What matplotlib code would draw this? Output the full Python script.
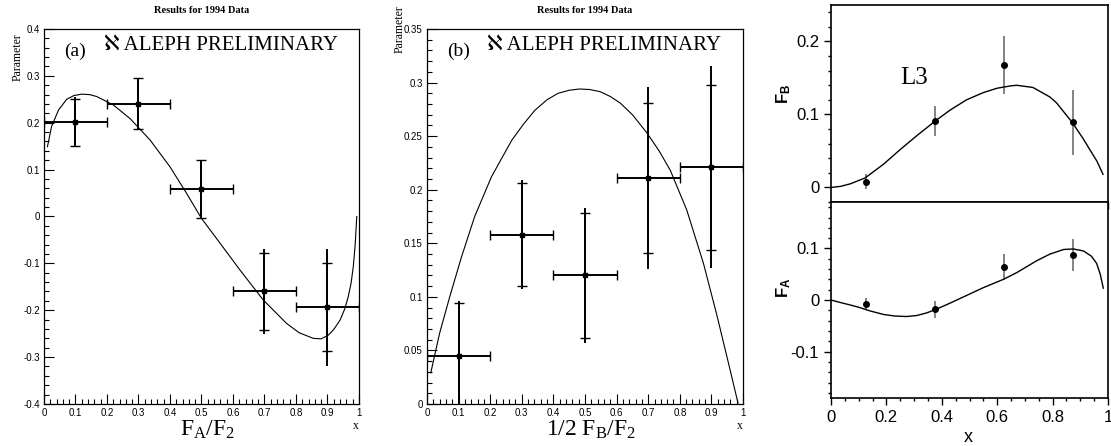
import matplotlib
matplotlib.use('Agg')
import matplotlib.pyplot as plt
from matplotlib.ticker import MultipleLocator, FormatStrFormatter

plt.rcParams['axes.unicode_minus'] = False
plt.rcParams['mathtext.fontset'] = 'custom'
plt.rcParams['mathtext.rm'] = 'Liberation Serif'
plt.rcParams['mathtext.it'] = 'Liberation Serif:italic'
plt.rcParams['mathtext.sf'] = 'Liberation Sans'
plt.rcParams['mathtext.bf'] = 'Liberation Sans:bold'

# ALEPH panel (a): F_A/F_2
xa = [0.1, 0.3, 0.5, 0.7, 0.9]
xa_err = [0.1, 0.1, 0.1, 0.1, 0.1]
ya = [0.201, 0.241, 0.058, -0.160, -0.194]
ya_stat = [0.050, 0.054, 0.062, 0.083, 0.094]
ya_tot = [0.053, 0.055, 0.062, 0.091, 0.124]
curve_a_x = [0.011, 0.024, 0.046, 0.072, 0.095, 0.120, 0.145, 0.167, 0.220, 0.273,
             0.337, 0.400, 0.453, 0.500, 0.559, 0.622, 0.696, 0.770, 0.810, 0.855,
             0.880, 0.903, 0.920, 0.940, 0.955, 0.966, 0.975, 0.982, 0.988, 0.993]
curve_a_y = [0.149, 0.192, 0.227, 0.250, 0.258, 0.261, 0.260, 0.256, 0.238, 0.209,
             0.163, 0.106, 0.049, -0.004, -0.057, -0.114, -0.178, -0.228, -0.248, -0.260,
             -0.261, -0.253, -0.241, -0.221, -0.197, -0.171, -0.142, -0.107, -0.060, 0.0]

# ALEPH panel (b): 1/2 F_B/F_2
xb = [0.1, 0.3, 0.5, 0.7, 0.9]
xb_err = [0.1, 0.1, 0.1, 0.1, 0.1]
yb = [0.045, 0.158, 0.120, 0.211, 0.221]
yb_stat = [0.049, 0.048, 0.058, 0.070, 0.077]
yb_tot = [0.051, 0.051, 0.063, 0.085, 0.094]
curve_b_x = [0.012, 0.040, 0.072, 0.109, 0.151, 0.204, 0.268, 0.305, 0.341, 0.380,
             0.415, 0.450, 0.482, 0.515, 0.548, 0.580, 0.611, 0.650, 0.696, 0.735,
             0.770, 0.822, 0.875, 0.918, 0.954, 0.984]
curve_b_y = [0.029, 0.066, 0.100, 0.137, 0.175, 0.212, 0.246, 0.261, 0.274, 0.284,
             0.290, 0.2928, 0.294, 0.2935, 0.2915, 0.287, 0.281, 0.270, 0.253, 0.236,
             0.218, 0.181, 0.131, 0.082, 0.038, 0.001]

# L3 panel: F_B (top) and F_A (bottom)
xc = [0.125, 0.375, 0.625, 0.875]
fb = [0.008, 0.091, 0.168, 0.089]
fb_err = [0.010, 0.020, 0.040, 0.045]
fa = [-0.008, -0.018, 0.064, 0.087]
fa_err = [0.011, 0.016, 0.026, 0.031]
curve_fb_x = [0.0, 0.035, 0.07, 0.123, 0.19, 0.25, 0.31, 0.376, 0.43, 0.489,
              0.55, 0.60, 0.646, 0.67, 0.729, 0.79, 0.814, 0.871, 0.91, 0.934,
              0.96, 0.982]
curve_fb_y = [0.0, 0.0015, 0.005, 0.013, 0.032, 0.052, 0.071, 0.091, 0.106, 0.120,
              0.130, 0.136, 0.139, 0.140, 0.137, 0.124, 0.116, 0.089, 0.067, 0.052,
              0.036, 0.018]
curve_fa_x = [0.0, 0.035, 0.07, 0.1, 0.14, 0.19, 0.23, 0.273, 0.31, 0.345,
              0.375, 0.43, 0.502, 0.55, 0.622, 0.67, 0.742, 0.79, 0.84, 0.875,
              0.912, 0.94, 0.959, 0.972, 0.983]
curve_fa_y = [0.0, -0.005, -0.0097, -0.014, -0.021, -0.028, -0.031, -0.032, -0.030, -0.025,
              -0.019, -0.006, 0.012, 0.024, 0.040, 0.053, 0.076, 0.089, 0.098, 0.099,
              0.095, 0.085, 0.071, 0.050, 0.023]

SERIF = ['Liberation Serif', 'DejaVu Serif', 'DejaVu Sans']
SANS = ['Liberation Sans', 'DejaVu Sans']


def aleph_panel(ax, x, xerr, y, stat, tot, cx, cy, ylim, ymaj, ymin, tag, xlabel, param_y):
    ax.errorbar(x, y, yerr=tot, fmt='none', ecolor='black', elinewidth=1.4, capsize=0)
    ax.errorbar(x, y, yerr=stat, xerr=xerr, fmt='s', color='black', ms=3.5,
                elinewidth=1.4, capsize=3.5, capthick=1.0)
    ax.plot(cx, cy, color='black', lw=0.8)
    ax.set_xlim(0, 1)
    ax.set_ylim(*ylim)
    ax.xaxis.set_major_locator(MultipleLocator(0.1))
    ax.xaxis.set_minor_locator(MultipleLocator(0.02))
    ax.yaxis.set_major_locator(MultipleLocator(ymaj))
    ax.yaxis.set_minor_locator(MultipleLocator(ymin))
    ax.xaxis.set_major_formatter(FormatStrFormatter('%g'))
    ax.yaxis.set_major_formatter(FormatStrFormatter('%g'))
    ax.tick_params(which='both', direction='in', top=False, right=False,
                   labelsize=7, pad=3)
    ax.tick_params(which='major', length=7, width=0.8)
    ax.tick_params(which='minor', length=3.5, width=0.8)
    for lab in ax.get_xticklabels() + ax.get_yticklabels():
        lab.set_family(SANS)
    for s in ax.spines.values():
        s.set_linewidth(0.9)
    ax.text(0.1, 0.94, tag, transform=ax.transAxes, ha='center', va='center',
            fontsize=14, family=SERIF)
    ax.text(0.19, 0.957, '\u2135 ALEPH PRELIMINARY', transform=ax.transAxes,
            ha='left', va='center', fontsize=15, family=SERIF)
    ax.text(0.5, 1.05, 'Results for 1994 Data', transform=ax.transAxes, ha='center',
            va='center', fontsize=7.5, fontweight='bold', family=SERIF)
    ax.text(-0.085, param_y, 'Parameter', transform=ax.transAxes, rotation=90,
            ha='center', va='center', fontsize=8.5, family=SERIF)
    ax.text(0.52, -0.068, xlabel, transform=ax.transAxes, ha='center', va='center',
            fontsize=17, family=SERIF)
    ax.text(0.99, -0.06, 'x', transform=ax.transAxes, ha='center', va='center',
            fontsize=8.5, family=SERIF)


def l3_axes(ax, ylim, yticks):
    ax.set_xlim(0, 1)
    ax.set_ylim(*ylim)
    ax.set_yticks(yticks)
    ax.xaxis.set_major_locator(MultipleLocator(0.2))
    ax.xaxis.set_minor_locator(MultipleLocator(0.05))
    ax.yaxis.set_minor_locator(MultipleLocator(0.02))
    ax.xaxis.set_major_formatter(FormatStrFormatter('%g'))
    ax.yaxis.set_major_formatter(FormatStrFormatter('%g'))
    ax.tick_params(which='both', direction='out', top=False, right=False,
                   labelsize=12, width=1.0)
    ax.tick_params(which='major', length=5)
    ax.tick_params(which='minor', length=2.5)
    for lab in ax.get_xticklabels() + ax.get_yticklabels():
        lab.set_family(SANS)
    for s in ax.spines.values():
        s.set_linewidth(1.2)


fig = plt.figure(figsize=(11.11, 4.46), dpi=100)

ax_a = fig.add_axes([0.0396, 0.0942, 0.2835, 0.8408])
aleph_panel(ax_a, xa, xa_err, ya, ya_stat, ya_tot, curve_a_x, curve_a_y,
            (-0.4, 0.4), 0.1, 0.02, '(a)', r'$\mathrm{F_A/F_2}$', 0.925)

ax_b = fig.add_axes([0.3843, 0.0942, 0.2845, 0.8408])
aleph_panel(ax_b, xb, xb_err, yb, yb_stat, yb_tot, curve_b_x, curve_b_y,
            (0, 0.35), 0.05, 0.01, '(b)', r'$\mathrm{1/2\ F_B/F_2}$', 1.0)

ax_t = fig.add_axes([0.748, 0.547, 0.2493, 0.4418])
ax_t.errorbar(xc, fb, yerr=fb_err, fmt='o', color='black', ms=4,
              ecolor='#6e6e6e', elinewidth=1.2, capsize=0)
ax_t.plot(curve_fb_x, curve_fb_y, color='black', lw=1.0)
l3_axes(ax_t, (-0.02, 0.25), [0, 0.1, 0.2])
ax_t.tick_params(axis='x', labelbottom=False)
ax_t.text(0.3, 0.15, 'L3', fontsize=18, family=SERIF, ha='center', va='center')
ax_t.text(-0.17, 0.55, r'$\mathbf{F_B}$', transform=ax_t.transAxes, rotation=90,
          ha='center', va='center', fontsize=12, family=SANS)

ax_c = fig.add_axes([0.748, 0.1076, 0.2493, 0.4394])
ax_c.errorbar(xc, fa, yerr=fa_err, fmt='o', color='black', ms=4,
              ecolor='#6e6e6e', elinewidth=1.2, capsize=0)
ax_c.plot(curve_fa_x, curve_fa_y, color='black', lw=1.0)
l3_axes(ax_c, (-0.19, 0.19), [-0.1, 0, 0.1])
ax_c.text(-0.17, 0.56, r'$\mathbf{F_A}$', transform=ax_c.transAxes, rotation=90,
          ha='center', va='center', fontsize=12, family=SANS)
ax_c.text(0.495, -0.2, 'x', transform=ax_c.transAxes, ha='center', va='center',
          fontsize=13, family=SANS)

fig.savefig('out.png', dpi=100)
